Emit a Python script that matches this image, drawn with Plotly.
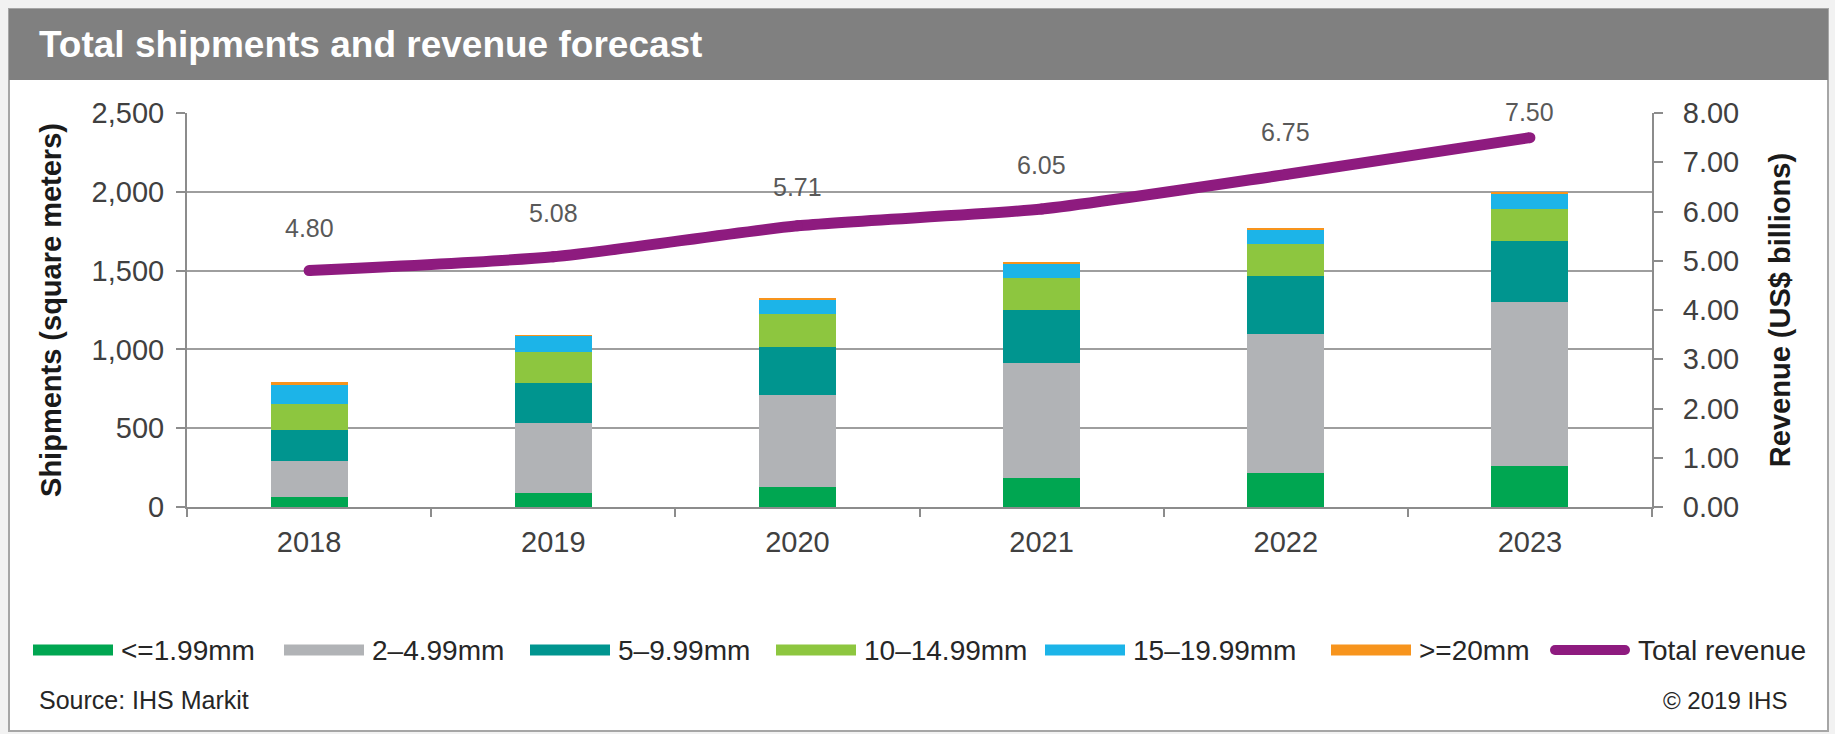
import plotly.graph_objects as go

# ---------------- data ----------------
years = ["2018", "2019", "2020", "2021", "2022", "2023"]
series_names = ["&lt;=1.99mm", "2–4.99mm", "5–9.99mm", "10–14.99mm", "15–19.99mm", "&gt;=20mm"]
thin_le_1_99 = [65, 89, 125, 183, 216, 258]
thin_2_4_99 = [225, 442, 584, 731, 883, 1044]
mid_5_9_99 = [197, 259, 308, 336, 365, 389]
mid_10_14_99 = [169, 191, 208, 200, 206, 200]
thick_15_19_99 = [120, 104, 86, 95, 89, 100]
thick_ge_20 = [20, 6, 16, 9, 6, 5]
revenue = [4.80, 5.08, 5.71, 6.05, 6.75, 7.50]
revenue_name = "Total revenue"

left_ticks = [0, 500, 1000, 1500, 2000, 2500]
right_ticks = [0, 1, 2, 3, 4, 5, 6, 7, 8]

# ---------------- styles ----------------
colors = ["#00A651", "#B1B3B6", "#00958F", "#8DC63F", "#1CB4E8", "#F7941D"]
line_color = "#8E1B7F"
grid_color = "#9E9E9E"
axis_color = "#8C8C8C"
text_dark = "#404040"
FONT = "Liberation Sans, Arial, sans-serif"

W, H = 1835, 734
PL, PR, PT, PB = 187, 1652, 113, 507  # plot area in px


def px_x(px):
    return (px - PL) / (PR - PL)


def px_y(py):
    return (PB - py) / (PB - PT)


fig = go.Figure()

all_series = [thin_le_1_99, thin_2_4_99, mid_5_9_99, mid_10_14_99, thick_15_19_99, thick_ge_20]
for name, vals, col in zip(series_names, all_series, colors):
    fig.add_trace(go.Bar(x=years, y=vals, name=name, marker=dict(color=col, line=dict(width=0)),
                         yaxis="y"))

fig.add_trace(go.Scatter(x=years, y=revenue, name=revenue_name, yaxis="y2", mode="lines+markers",
                         line=dict(color=line_color, width=11, shape="spline", smoothing=0.6),
                         marker=dict(color=line_color, size=11)))

annotations = []
# data labels for revenue (category axis -> serial index positions)
label_offsets = [43, 44, 39, 44, 43, 26]
for i, (v, off) in enumerate(zip(revenue, label_offsets)):
    annotations.append(dict(x=i, y=v, xref="x", yref="y2", text=f"{v:.2f}", showarrow=False,
                            yshift=off, font=dict(family=FONT, size=25, color="#595959")))

shapes = []
# outer frame (white panel) and title bar
shapes.append(dict(type="rect", xref="paper", yref="paper", layer="below",
                   x0=px_x(9), x1=px_x(1828), y0=px_y(731), y1=px_y(9),
                   fillcolor="white", line=dict(color="#A6A6A6", width=2)))
shapes.append(dict(type="rect", xref="paper", yref="paper", layer="below",
                   x0=px_x(9), x1=px_x(1828), y0=px_y(80), y1=px_y(9),
                   fillcolor="#808080", line=dict(width=0)))

annotations.append(dict(xref="paper", yref="paper", x=px_x(37), y=px_y(44), xanchor="left",
                        yanchor="middle", showarrow=False, text="<b>Total shipments and revenue forecast</b>",
                        font=dict(family=FONT, size=37, color="white")))

# manual legend
leg_x0 = [33, 284, 530, 776, 1045, 1331, 1550]
sw_w = 80
leg_y = 650
legend_labels = series_names + [revenue_name]
for i, (lab, x0) in enumerate(zip(legend_labels, leg_x0)):
    if i < len(colors):
        shapes.append(dict(type="rect", xref="paper", yref="paper",
                           x0=px_x(x0), x1=px_x(x0 + sw_w), y0=px_y(leg_y + 5.5), y1=px_y(leg_y - 5.5),
                           fillcolor=colors[i], line=dict(width=0)))
    else:
        shapes.append(dict(type="rect", xref="paper", yref="paper",
                           x0=px_x(x0 + 5), x1=px_x(x0 + sw_w - 5), y0=px_y(leg_y + 5), y1=px_y(leg_y - 5),
                           fillcolor=line_color, line=dict(width=0)))
        for cx in (x0 + 5, x0 + sw_w - 5):
            shapes.append(dict(type="circle", xref="paper", yref="paper",
                               x0=px_x(cx - 5), x1=px_x(cx + 5), y0=px_y(leg_y + 5), y1=px_y(leg_y - 5),
                               fillcolor=line_color, line=dict(width=0)))
    annotations.append(dict(xref="paper", yref="paper", x=px_x(x0 + sw_w + 6), y=px_y(leg_y),
                            xanchor="left", yanchor="middle", showarrow=False, text=lab,
                            font=dict(family=FONT, size=28, color="#262626")))

annotations.append(dict(xref="paper", yref="paper", x=px_x(37), y=px_y(700), xanchor="left",
                        yanchor="middle", showarrow=False, text="Source: IHS Markit",
                        font=dict(family=FONT, size=25, color="#262626")))
annotations.append(dict(xref="paper", yref="paper", x=px_x(1789), y=px_y(700), xanchor="right",
                        yanchor="middle", showarrow=False, text="© 2019 IHS",
                        font=dict(family=FONT, size=24, color="#262626")))

fig.update_layout(
    width=W, height=H,
    margin=dict(l=PL, r=W - PR, t=PT, b=H - PB, pad=0),
    paper_bgcolor="#F2F2F2", plot_bgcolor="rgba(0,0,0,0)",
    barmode="stack", bargap=0.685,
    showlegend=False,
    font=dict(family=FONT, color=text_dark),
    shapes=shapes, annotations=annotations,
    xaxis=dict(type="category", showgrid=False, showline=True, linecolor=axis_color, linewidth=2,
               ticks="outside", tickson="boundaries", ticklen=8, tickwidth=2, tickcolor=axis_color,
               tickfont=dict(family=FONT, size=29, color=text_dark), ticklabelstandoff=8,
               tickangle=0),
    yaxis=dict(range=[0, 2500], tickvals=left_ticks, tickformat=",", showgrid=True,
               gridcolor=grid_color, gridwidth=2, showline=True, linecolor=axis_color, linewidth=2,
               ticks="outside", ticklen=9, tickwidth=2, tickcolor=axis_color, zeroline=False,
               tickfont=dict(family=FONT, size=29, color=text_dark), ticklabelstandoff=6,
               title=dict(text="<b>Shipments (square meters)</b>", standoff=21,
                          font=dict(family=FONT, size=29, color="#1A1A1A"))),
    yaxis2=dict(range=[0, 8], tickvals=right_ticks, tickformat=".2f", overlaying="y", side="right",
                showgrid=False, showline=True, linecolor=axis_color, linewidth=2, zeroline=False,
                ticks="outside", ticklen=9, tickwidth=2, tickcolor=axis_color,
                tickfont=dict(family=FONT, size=29, color=text_dark), ticklabelstandoff=14,
                title=dict(text="<b>Revenue (US$ billions)</b>", standoff=31,
                           font=dict(family=FONT, size=29, color="#1A1A1A"))),
)

fig.write_html("out.html")
